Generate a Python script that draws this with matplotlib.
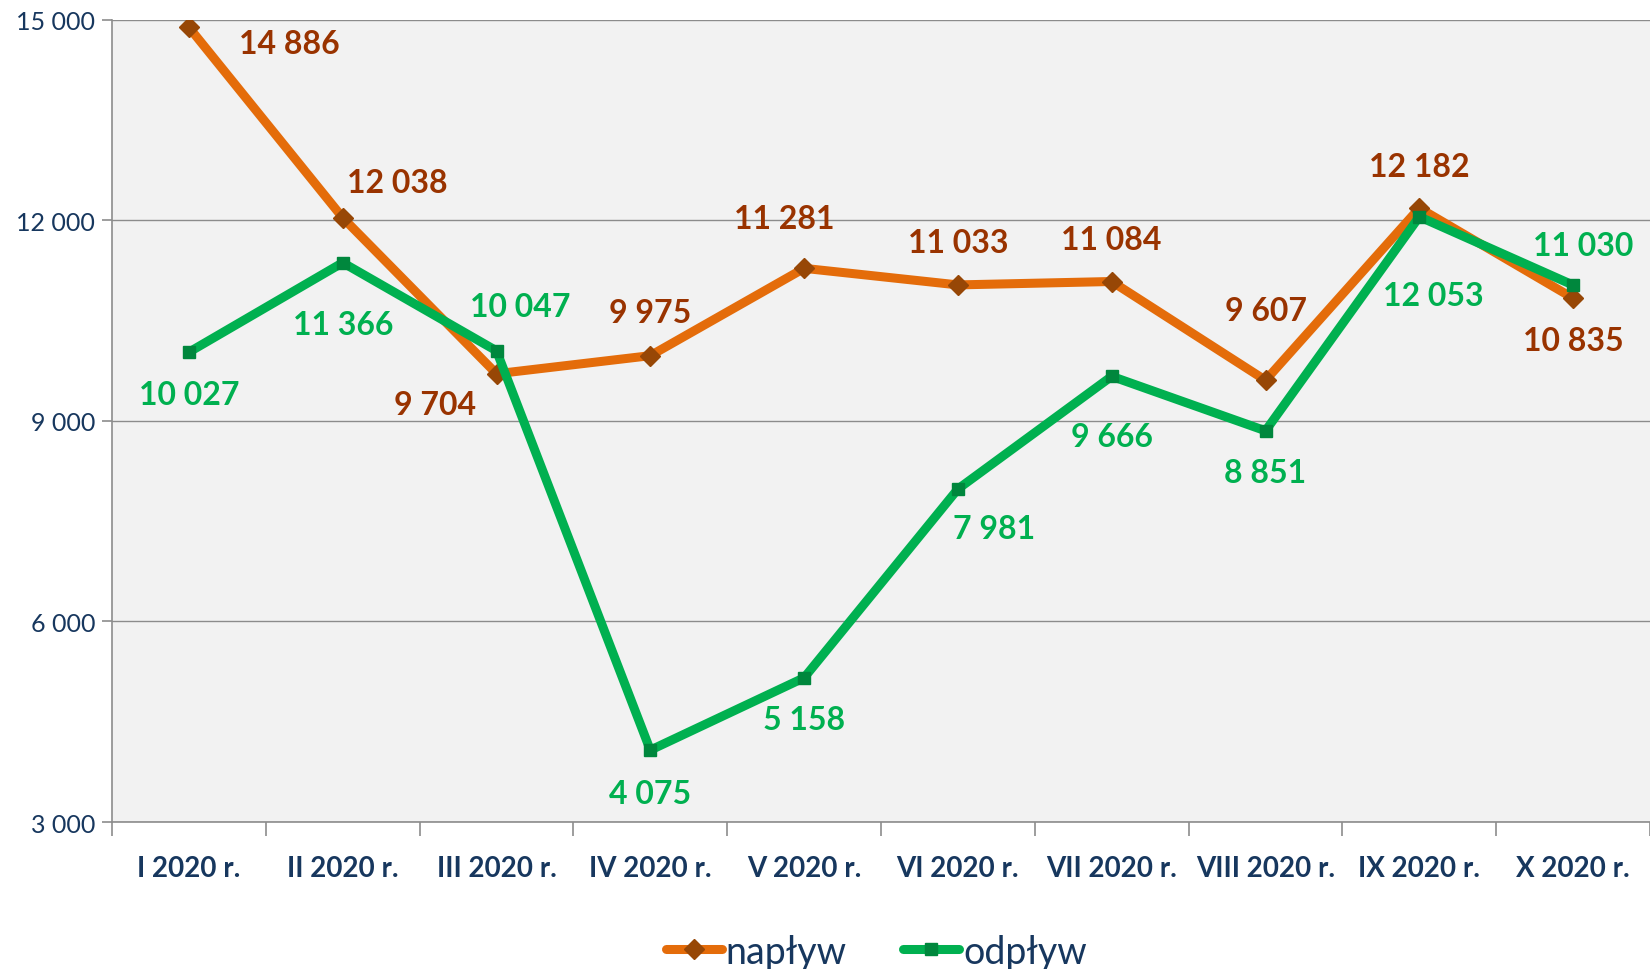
import matplotlib

matplotlib.use("Agg")
import matplotlib.pyplot as plt
from matplotlib.ticker import FuncFormatter, FixedLocator

months = ["I 2020 r.", "II 2020 r.", "III 2020 r.", "IV 2020 r.", "V 2020 r.",
          "VI 2020 r.", "VII 2020 r.", "VIII 2020 r.", "IX 2020 r.", "X 2020 r."]
naplyw = [14886, 12038, 9704, 9975, 11281, 11033, 11084, 9607, 12182, 10835]
odplyw = [10027, 11366, 10047, 4075, 5158, 7981, 9666, 8851, 12053, 11030]
y_ticks = [3000, 6000, 9000, 12000, 15000]

# label offsets in pixels (dx, dy) relative to each point
naplyw_offsets = [(100, -16), (55, 35), (-61, -31), (0, 43), (-20, 50),
                  (0, 42), (0, 42), (0, 70), (0, 42), (0, -42)]
odplyw_offsets = [(0, -42), (0, -62), (24, 44), (0, -43), (0, -42),
                  (36, -40), (0, -60), (0, -42), (14, -79), (10, 40)]

NAVY = "#17375E"
ORANGE = "#E46C0A"
ORANGE_DARK = "#974706"
ORANGE_TEXT = "#993300"
GREEN = "#00B050"
GREEN_DARK = "#00873D"
FONT = "Lato"


def fmt_thousands(value):
    return f"{int(value):,}".replace(",", " ")


fig = plt.figure(figsize=(16.5, 9.7), dpi=100)
ax = fig.add_axes([0.0679, 0.1515, 0.9321, 0.8272])
ax.set_facecolor("#F2F2F2")

x = list(range(len(months)))
ax.plot(x, naplyw, color=ORANGE, linewidth=6.5, marker="D", markersize=10,
        markerfacecolor=ORANGE_DARK, markeredgecolor=ORANGE_DARK,
        solid_capstyle="round", zorder=3, label="napływ")
ax.plot(x, odplyw, color=GREEN, linewidth=6.5, marker="s", markersize=9,
        markerfacecolor=GREEN_DARK, markeredgecolor=GREEN_DARK,
        solid_capstyle="round", zorder=4, label="odpływ")

for xi, val, (dx, dy) in zip(x, naplyw, naplyw_offsets):
    ax.annotate(fmt_thousands(val), (xi, val), xytext=(dx, dy),
                textcoords="offset pixels", ha="center", va="center",
                fontsize=23, fontweight="bold", family=FONT,
                color=ORANGE_TEXT, zorder=5)
for xi, val, (dx, dy) in zip(x, odplyw, odplyw_offsets):
    ax.annotate(fmt_thousands(val), (xi, val), xytext=(dx, dy),
                textcoords="offset pixels", ha="center", va="center",
                fontsize=23, fontweight="bold", family=FONT,
                color=GREEN, zorder=5)

ax.set_xlim(-0.5, len(months) - 0.5)
ax.set_ylim(y_ticks[0], y_ticks[-1])
ax.set_yticks(y_ticks)
ax.yaxis.set_major_formatter(FuncFormatter(lambda v, _: fmt_thousands(v)))
ax.yaxis.grid(True, color="#8C8C8C", linewidth=1.0)
ax.set_axisbelow(True)

ax.set_xticks(x)
ax.set_xticklabels(months)
ax.xaxis.set_minor_locator(FixedLocator([i - 0.5 for i in range(len(months) + 1)]))
ax.tick_params(axis="x", which="major", length=0, pad=24, labelsize=20,
               labelcolor=NAVY)
ax.tick_params(axis="x", which="minor", length=10, width=1.2, color="#8C8C8C")
ax.tick_params(axis="y", length=7, width=1.2, color="#8C8C8C", labelsize=18,
               labelcolor=NAVY, pad=5)
for lbl in ax.get_xticklabels():
    lbl.set_fontweight("bold")
    lbl.set_family(FONT)
for lbl in ax.get_yticklabels():
    lbl.set_family(FONT)

for side in ("top", "right"):
    ax.spines[side].set_visible(False)
for side in ("left", "bottom"):
    ax.spines[side].set_color("#8C8C8C")
    ax.spines[side].set_linewidth(1.2)

fig.legend(loc="center", bbox_to_anchor=(0.531, 0.018), ncol=2, frameon=False,
           prop={"family": FONT, "size": 27}, labelcolor=NAVY,
           handlelength=1.5, handletextpad=0.1, columnspacing=1.5)

fig.savefig("out.png", dpi=100)
